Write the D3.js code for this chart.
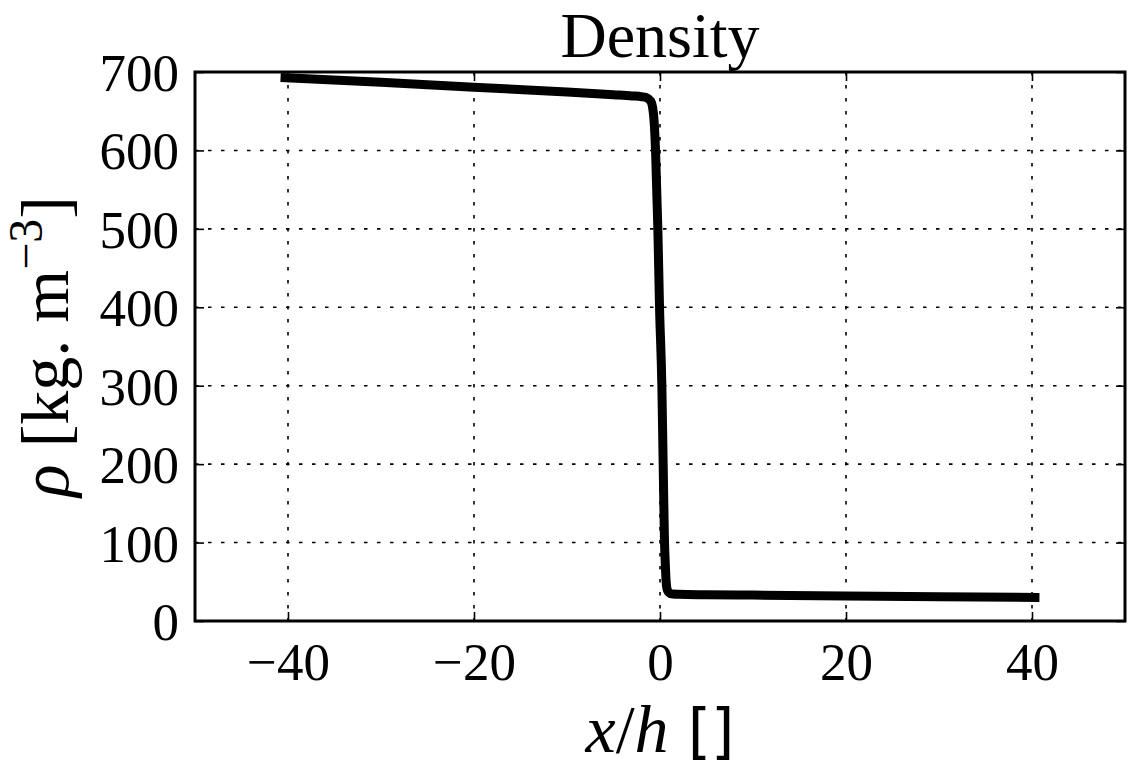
<!DOCTYPE html>
<html><head><meta charset="utf-8">
<script src="https://cdn.jsdelivr.net/npm/d3@7"></script>
<style>
body{margin:0;background:#fff;}
svg{display:block;}
text{font-family:"Liberation Serif","DejaVu Serif",serif;fill:#000;}
</style></head>
<body>
<svg id="chart" width="1134" height="771"></svg>
<script>
const xPos = [-40.8, -30, -20, -10, -5, -3, -2, -1.5, -1.0, -0.8, -0.65, -0.55, -0.48, -0.23, -0.05, 0.2, 0.34, 0.48, 0.58, 0.66, 0.75, 0.9, 1.1, 1.4, 2, 5, 10, 20, 30, 40.8];
const density = [693, 687, 680.5, 674.5, 671, 669.5, 668.5, 667.5, 663, 655, 640, 620, 600, 500, 400, 300, 200, 103, 70, 50, 41, 37, 35, 34.3, 34, 33.5, 33, 32, 31, 30];
const xTicks = [-40, -20, 0, 20, 40];
const yTicks = [0, 100, 200, 300, 400, 500, 600, 700];
const xDomain = [-50, 50];
const yDomain = [0, 700];
const title = "Density";

const svg = d3.select("#chart");
const m = {l:195, t:72, r:9, b:150};
const W = 1134 - m.l - m.r, H = 771 - m.t - m.b;
const g = svg.append("g").attr("transform", `translate(${m.l},${m.t})`);
const x = d3.scaleLinear().domain(xDomain).range([0, W]);
const y = d3.scaleLinear().domain(yDomain).range([H, 0]);

// grid
g.append("g").selectAll("line").data(xTicks).join("line")
  .attr("x1", d=>x(d)).attr("x2", d=>x(d)).attr("y1", 0).attr("y2", H)
  .attr("stroke", "#000").attr("stroke-width", 1.6).attr("stroke-dasharray", "3.5,9.5");
g.append("g").selectAll("line").data(yTicks.filter(d=>d>0 && d<700)).join("line")
  .attr("y1", d=>y(d)).attr("y2", d=>y(d)).attr("x1", 0).attr("x2", W)
  .attr("stroke", "#000").attr("stroke-width", 1.6).attr("stroke-dasharray", "3.5,9.5");

// axes with inward ticks
const tl = 9;
const xb = g.append("g").attr("transform", `translate(0,${H})`)
  .call(d3.axisBottom(x).tickValues(xTicks).tickSizeInner(-tl).tickSizeOuter(0).tickPadding(21)
    .tickFormat(d => d < 0 ? "\u2212" + Math.abs(d) : d));
const xt = g.append("g").call(d3.axisTop(x).tickValues(xTicks).tickSizeInner(-tl).tickSizeOuter(0).tickFormat(""));
const yl = g.append("g").call(d3.axisLeft(y).tickValues(yTicks).tickSizeInner(-tl).tickSizeOuter(0).tickPadding(16));
const yr = g.append("g").attr("transform", `translate(${W},0)`)
  .call(d3.axisRight(y).tickValues(yTicks).tickSizeInner(-tl).tickSizeOuter(0).tickFormat(""));
[xb, xt, yl, yr].forEach(a => {
  a.select(".domain").remove();
  a.selectAll(".tick line").attr("stroke", "#000").attr("stroke-width", 1.6);
  a.selectAll(".tick text").attr("font-size", 53).attr("font-family", "Liberation Serif");
});
xb.selectAll(".tick text").attr("dy", "0.71em");
yl.selectAll(".tick text").attr("dy", "0.35em");

// line
const line = d3.line().x((d,i)=>x(xPos[i])).y(d=>y(d)).curve(d3.curveMonotoneX);
g.append("path").datum(density).attr("d", line)
  .attr("fill", "none").attr("stroke", "#000").attr("stroke-width", 9)
  .attr("stroke-linejoin", "round").attr("stroke-linecap", "butt");

// frame
g.append("rect").attr("x", 0).attr("y", 0).attr("width", W).attr("height", H)
  .attr("fill", "none").attr("stroke", "#000").attr("stroke-width", 3);

// title
svg.append("text").attr("x", m.l + W/2).attr("y", 57).attr("text-anchor", "middle")
  .attr("font-size", 64).text(title);

// x label
const xl = svg.append("text").attr("x", m.l + W/2).attr("y", 752).attr("text-anchor", "middle").attr("font-size", 68);
xl.append("tspan").attr("font-style", "italic").text("x");
xl.append("tspan").text("/");
xl.append("tspan").attr("font-style", "italic").text("h");
xl.append("tspan").attr("font-family", "DejaVu Sans").attr("font-size", 60).text(" []");

// y label
const ylab = svg.append("text").attr("transform", `translate(68,${m.t + H/2}) rotate(-90)`)
  .attr("text-anchor", "middle").attr("font-size", 68);
ylab.append("tspan").attr("font-style", "italic").text("ρ");
ylab.append("tspan").text(" [kg. m");
ylab.append("tspan").attr("font-size", 48).attr("dy", -26).text("\u22123");
ylab.append("tspan").attr("dy", 26).text("]");
</script>
</body></html>
